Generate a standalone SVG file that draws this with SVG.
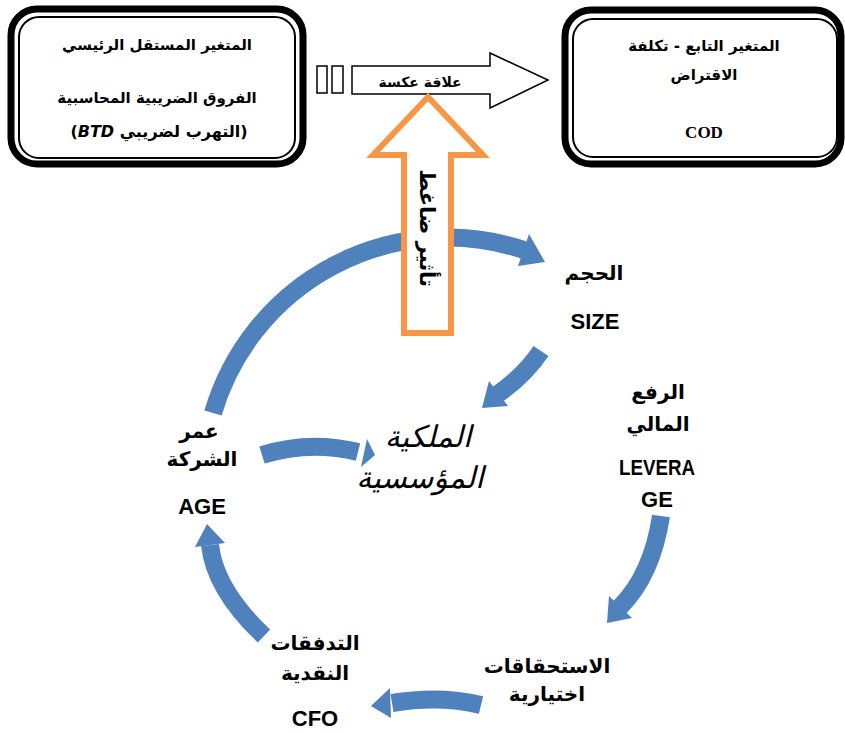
<svg xmlns="http://www.w3.org/2000/svg" width="845" height="733" viewBox="0 0 845 733">
<style>
.outer{fill:#fff;stroke:#000;stroke-width:7}
.inner{fill:none;stroke:#000;stroke-width:2}
.ar{font-family:"DejaVu Sans","Noto Sans",sans-serif;font-weight:bold;text-anchor:middle;direction:rtl}
.box{font-size:15px}
.lbl{font-size:20px}
.lat{font-family:"Liberation Sans",Arial,sans-serif;font-weight:bold;font-size:22px;text-anchor:middle}
.band{fill:none;stroke:#4F81BD;stroke-width:18;stroke-linecap:butt}
.head{fill:#4F81BD;stroke:none}
</style>
<rect width="845" height="733" fill="#fff"/>
<g id="node-independent">
<rect class="outer" x="11" y="9" width="292" height="155" rx="26"/>
<rect class="inner" x="19" y="17" width="276" height="141" rx="20"/>
<text class="ar box" x="157" y="50">المتغير المستقل الرئيسي</text>
<text class="ar box" x="157" y="103">الفروق الضريبية المحاسبية</text>
<text class="ar" font-size="16" x="159" y="137">(التهرب لضريبي <tspan font-style="italic">BTD</tspan>)</text>
</g>
<g id="node-dependent">
<rect class="outer" x="565" y="10" width="276" height="154" rx="26"/>
<rect class="inner" x="573" y="19" width="264" height="138" rx="20"/>
<text class="ar box" x="704" y="51">المتغير التابع - تكلفة</text>
<text class="ar box" x="704" y="80">الاقتراض</text>
<text x="704" y="138" font-family="Liberation Serif,serif" font-weight="bold" font-size="17" text-anchor="middle">COD</text>
</g>
<g id="connector-inverse">
<rect x="317" y="66" width="10" height="27" fill="#fff" stroke="#000" stroke-width="1.5"/>
<rect x="332" y="66" width="11" height="27" fill="#fff" stroke="#000" stroke-width="1.5"/>
<polygon points="352,66 490,66 490,53 548,80 490,108 490,94 352,94" fill="#fff" stroke="#000" stroke-width="1.5"/>
<text class="ar" x="420" y="87" font-size="14">علاقة عكسة</text>
</g>
<g id="connectors">
<path class="band" d="M 213 413 A 244 244 0 0 1 524 250"/>
<polygon class="head" points="529,234 545,262 518,266"/>
<path class="band" d="M 541 351 Q 525 375 498 394"/>
<polygon class="head" points="489,381 508,406 482,408"/>
<path class="band" d="M 661 516 Q 652 575 620 607"/>
<polygon class="head" points="632,618 609,596 607,623"/>
<path class="band" d="M 481 705 Q 440 695 392 703"/>
<polygon class="head" points="390,688 391,718 371,706"/>
<path class="band" d="M 264 636 Q 215 590 210 545"/>
<polygon class="head" points="225,543 195,547 207,524"/>
<path class="band" d="M 262 455 Q 310 440 358 452"/>
<polygon class="head" points="367,439 361,467 375,455"/>
</g>
<g id="orange-arrow">
<polygon points="428,97 483,155 451,155 451,333 404,333 404,155 373,155" fill="#fff" stroke="#F79646" stroke-width="6" stroke-linejoin="miter"/>
<text class="ar" font-size="21" transform="translate(420,228) rotate(90)">تأثير ضاغط</text>
</g>
<g id="node-center">
<text class="ar" font-style="italic" font-size="30" x="428" y="447" style="font-weight:normal">الملكية</text>
<text class="ar" font-style="italic" font-size="30" x="420" y="488" style="font-weight:normal">المؤسسية</text>
</g>
<g id="node-size">
<text class="ar lbl" x="594" y="280">الحجم</text>
<text class="lat" x="595" y="329">SIZE</text>
</g>
<g id="node-leverage">
<text class="ar lbl" x="658" y="399">الرفع</text>
<text class="ar lbl" x="658" y="431">المالي</text>
<text class="lat" x="657" y="475" textLength="76" lengthAdjust="spacingAndGlyphs">LEVERA</text>
<text class="lat" x="657" y="507">GE</text>
</g>
<g id="node-accruals">
<text class="ar lbl" x="547" y="673">الاستحقاقات</text>
<text class="ar lbl" x="547" y="701">اختيارية</text>
</g>
<g id="node-cfo">
<text class="ar lbl" x="315" y="650">التدفقات</text>
<text class="ar lbl" x="315" y="680">النقدية</text>
<text class="lat" x="315" y="726">CFO</text>
</g>
<g id="node-age">
<text class="ar lbl" x="199" y="438">عمر</text>
<text class="ar lbl" x="202" y="466">الشركة</text>
<text class="lat" x="202" y="514">AGE</text>
</g>
</svg>
